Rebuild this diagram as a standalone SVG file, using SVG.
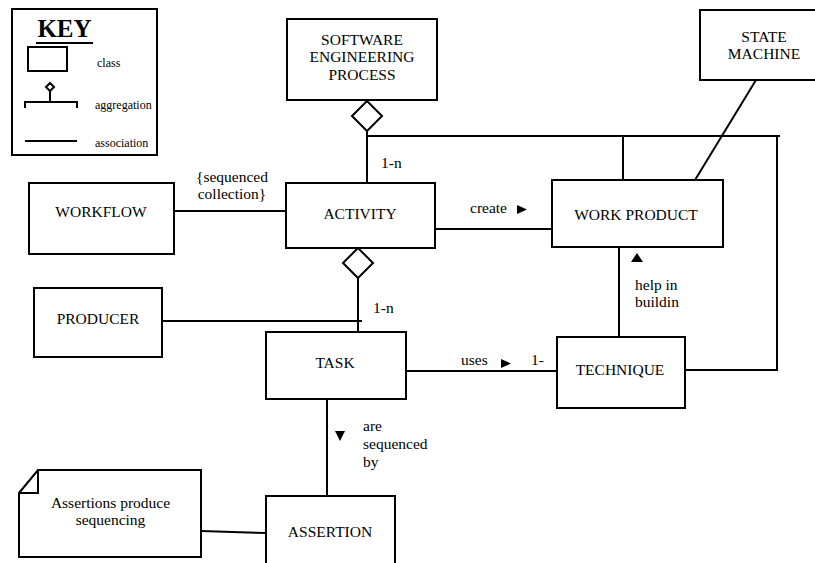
<svg xmlns="http://www.w3.org/2000/svg" width="815" height="563" viewBox="0 0 815 563">
<style>
.box{fill:#fff;stroke:#000;stroke-width:2}
.ln{fill:none;stroke:#000;stroke-width:2}
.dia{fill:#fff;stroke:#000;stroke-width:2}
.tri{fill:#000}
</style>
<rect width="815" height="563" fill="#fff"/>
<g id="key">
<rect class="box" x="12" y="9" width="145" height="146"/>
<text font-family="Liberation Serif" font-size="25" font-weight="bold" text-anchor="middle" x="64.5" y="37">KEY</text>
<line class="ln" x1="36" y1="43" x2="93" y2="43"/>
<rect class="box" x="28" y="47" width="39" height="24"/>
<text font-family="Liberation Serif" font-size="12" x="97" y="67">class</text>
<polygon class="dia" points="50,83 54,87 50,91 46,87"/>
<path class="ln" d="M50,91 V102 M25,102 H77 M25,101 V108 M77,101 V108"/>
<text font-family="Liberation Serif" font-size="12" x="95" y="109">aggregation</text>
<line class="ln" x1="25" y1="141" x2="77" y2="141"/>
<text font-family="Liberation Serif" font-size="12" x="95" y="147">association</text>
</g>
<g id="connectors">
<path class="ln" d="M367,131 V183"/>
<path class="ln" d="M367,136 H780"/>
<path class="ln" d="M777,136 V370 H685"/>
<path class="ln" d="M623,136 V180"/>
<path class="ln" d="M756,80 L695,180"/>
<path class="ln" d="M174,211 H286"/>
<path class="ln" d="M435,229 H552"/>
<path class="ln" d="M358,278 V332"/>
<path class="ln" d="M162,321 H362"/>
<path class="ln" d="M619,247 V337"/>
<path class="ln" d="M406,371 H557"/>
<path class="ln" d="M327,399 V496"/>
<path class="ln" d="M201,531 L266,533"/>
<polygon class="dia" points="367,101 382,116 367,131 352,116"/>
<polygon class="dia" points="358,248 373,263 358,278 343,263"/>
<text font-family="Liberation Serif" font-size="15.5" x="381" y="168">1-n</text>
<text font-family="Liberation Serif" font-size="15.5" text-anchor="middle" x="232" y="182">{sequenced</text>
<text font-family="Liberation Serif" font-size="15.5" text-anchor="middle" x="232" y="199">collection}</text>
<text font-family="Liberation Serif" font-size="15.5" x="470" y="213">create</text>
<polygon class="tri" points="517,205 527,209.5 517,214"/>
<text font-family="Liberation Serif" font-size="15.5" x="373" y="313">1-n</text>
<text font-family="Liberation Serif" font-size="15.5" x="461" y="365">uses</text>
<polygon class="tri" points="501,359 511,363.5 501,368"/>
<text font-family="Liberation Serif" font-size="15.5" x="531" y="365">1-</text>
<polygon class="tri" points="631,262 637,253 643,262"/>
<text font-family="Liberation Serif" font-size="15.5" x="635" y="290">help in</text>
<text font-family="Liberation Serif" font-size="15.5" x="635" y="307">buildin</text>
<polygon class="tri" points="335,431 345,431 340,441"/>
<text font-family="Liberation Serif" font-size="15.5" x="363" y="431">are</text>
<text font-family="Liberation Serif" font-size="15.5" x="363" y="449">sequenced</text>
<text font-family="Liberation Serif" font-size="15.5" x="363" y="467">by</text>
</g>
<g id="sep">
<rect class="box" x="287" y="19" width="150" height="81"/>
<text font-family="Liberation Serif" font-size="15.5" text-anchor="middle" x="362" y="45">SOFTWARE</text>
<text font-family="Liberation Serif" font-size="15.5" text-anchor="middle" x="362" y="62">ENGINEERING</text>
<text font-family="Liberation Serif" font-size="15.5" text-anchor="middle" x="362" y="80">PROCESS</text>
</g>
<g id="state-machine">
<rect class="box" x="700" y="10" width="125" height="70"/>
<text font-family="Liberation Serif" font-size="15.5" text-anchor="middle" x="764" y="42">STATE</text>
<text font-family="Liberation Serif" font-size="15.5" text-anchor="middle" x="764" y="59">MACHINE</text>
</g>
<g id="workflow">
<rect class="box" x="29" y="183" width="145" height="71"/>
<text font-family="Liberation Serif" font-size="15.5" text-anchor="middle" x="101" y="217">WORKFLOW</text>
</g>
<g id="activity">
<rect class="box" x="286" y="183" width="149" height="65"/>
<text font-family="Liberation Serif" font-size="15.5" text-anchor="middle" x="360" y="219">ACTIVITY</text>
</g>
<g id="work-product">
<rect class="box" x="552" y="180" width="171" height="67"/>
<text font-family="Liberation Serif" font-size="15.5" text-anchor="middle" x="636" y="220">WORK PRODUCT</text>
</g>
<g id="producer">
<rect class="box" x="34" y="288" width="128" height="69"/>
<text font-family="Liberation Serif" font-size="15.5" text-anchor="middle" x="98" y="324">PRODUCER</text>
</g>
<g id="task">
<rect class="box" x="266" y="332" width="140" height="67"/>
<text font-family="Liberation Serif" font-size="15.5" text-anchor="middle" x="335" y="368">TASK</text>
</g>
<g id="technique">
<rect class="box" x="557" y="337" width="128" height="71"/>
<text font-family="Liberation Serif" font-size="15.5" text-anchor="middle" x="620" y="375">TECHNIQUE</text>
</g>
<g id="assertion">
<rect class="box" x="266" y="496" width="129" height="80"/>
<text font-family="Liberation Serif" font-size="15.5" text-anchor="middle" x="330" y="537">ASSERTION</text>
</g>
<g id="note">
<path class="box" d="M19,493 L38,470 L201,470 L201,557 L19,557 Z"/>
<path class="ln" d="M38,470 V493 H19"/>
<text font-family="Liberation Serif" font-size="15.5" text-anchor="middle" x="110.5" y="508">Assertions produce</text>
<text font-family="Liberation Serif" font-size="15.5" text-anchor="middle" x="110.5" y="525">sequencing</text>
</g>
</svg>
